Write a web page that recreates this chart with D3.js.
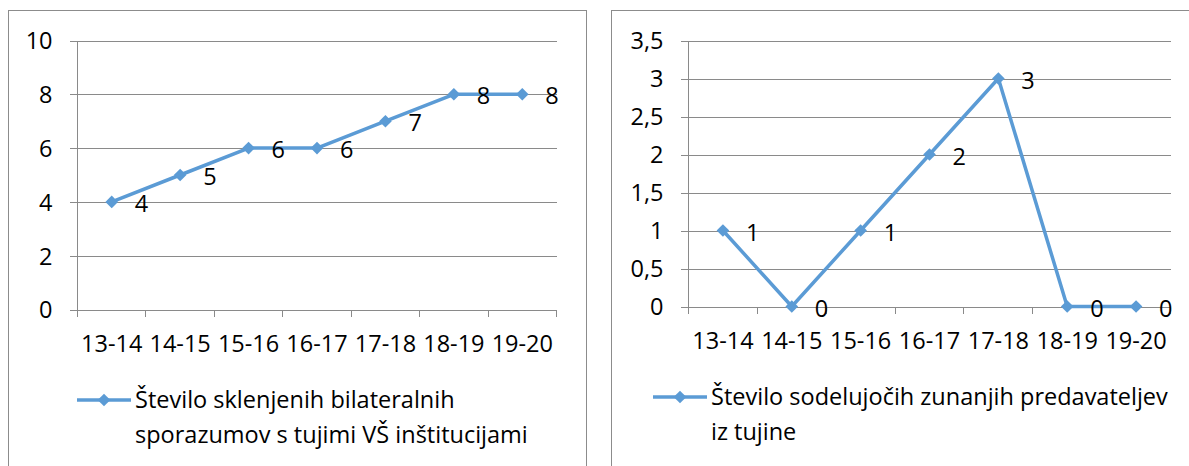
<!DOCTYPE html>
<html>
<head>
<meta charset="utf-8">
<script src="https://cdn.jsdelivr.net/npm/d3@7"></script>
<style>
  html, body { margin: 0; padding: 0; background: #fff; }
  svg { display: block; }
  text { font-family: "Open Sans", "Noto Sans", sans-serif; fill: #000; }
</style>
</head>
<body>
<svg id="chart" width="1189" height="466"></svg>
<script>
// ---- data ----
const categories = ["13-14", "14-15", "15-16", "16-17", "17-18", "18-19", "19-20"];
const agreements = [4, 5, 6, 6, 7, 8, 8];
const lecturers = [1, 0, 1, 2, 3, 0, 0];
const agreementTicks = [0, 2, 4, 6, 8, 10];
const lecturerTicks = [0, 0.5, 1, 1.5, 2, 2.5, 3, 3.5];
const agreementLegend = ["Število sklenjenih bilateralnih", "sporazumov s tujimi VŠ inštitucijami"];
const lecturerLegend = ["Število sodelujočih zunanjih predavateljev", "iz tujine"];

const locale = d3.formatLocale({decimal: ",", thousands: ".", grouping: [3], currency: ["", "€"]});
const fmt = locale.format("~g");

const BLUE = "#5B9BD5";
const GRID = "#8a8a8a";
const FS = 23.5;
const svg = d3.select("#chart");

function drawChart(opt) {
  const g = svg.append("g");
  // frame
  g.append("rect")
    .attr("x", opt.frame[0]).attr("y", opt.frame[1])
    .attr("width", opt.frame[2]).attr("height", opt.frame[3])
    .attr("fill", "none").attr("stroke", "#8c8c8c").attr("stroke-width", 1);

  const x = d3.scaleBand().domain(categories).range([opt.x0, opt.x1]);
  const y = d3.scaleLinear().domain([0, d3.max(opt.ticks)]).range([opt.y0, opt.yTop]);

  // y gridlines via axis
  const yAxis = d3.axisLeft(y).tickValues(opt.ticks).tickFormat(fmt)
    .tickSize(-(opt.x1 - opt.x0)).tickSizeOuter(0).tickPadding(0);
  const ya = g.append("g").attr("transform", `translate(${opt.x0},0)`).call(yAxis);
  ya.select(".domain").remove();
  ya.selectAll(".tick line").attr("stroke", GRID).attr("x1", -8).attr("shape-rendering", "crispEdges");
  ya.selectAll(".tick text")
    .attr("x", -25).attr("dy", "0.36em")
    .attr("font-size", FS).attr("font-family", "Open Sans").attr("fill", "#000");

  // vertical axis line
  g.append("line").attr("x1", opt.x0).attr("x2", opt.x0)
    .attr("y1", y.range()[1]).attr("y2", y(0))
    .attr("stroke", GRID).attr("shape-rendering", "crispEdges");

  // x axis labels via axis
  const xAxis = d3.axisBottom(x).tickSize(0).tickPadding(0);
  const xa = g.append("g").attr("transform", `translate(0,${y(0)})`).call(xAxis);
  xa.select(".domain").attr("stroke", GRID).attr("shape-rendering", "crispEdges");
  xa.selectAll(".tick text")
    .attr("y", 42).attr("dy", 0)
    .attr("font-size", FS).attr("font-family", "Open Sans").attr("fill", "#000");
  // boundary tick marks
  const bounds = categories.map(c => x(c)).concat([x.range()[1]]);
  g.append("g").selectAll("line").data(bounds).join("line")
    .attr("x1", d => d).attr("x2", d => d)
    .attr("y1", y(0)).attr("y2", y(0) + 7)
    .attr("stroke", GRID).attr("shape-rendering", "crispEdges");

  const cx = (d, i) => x(categories[i]) + x.bandwidth() / 2;
  const line = d3.line().x(cx).y(d => y(d));
  g.append("path").datum(opt.values)
    .attr("d", line).attr("fill", "none")
    .attr("stroke", BLUE).attr("stroke-width", 3.5).attr("stroke-linejoin", "round");

  const diamond = d3.symbol().type(d3.symbolSquare).size(80);
  g.append("g").selectAll("path").data(opt.values).join("path")
    .attr("d", diamond)
    .attr("transform", (d, i) => `translate(${cx(d, i)},${y(d)}) rotate(45)`)
    .attr("fill", BLUE);

  g.append("g").selectAll("text").data(opt.values).join("text")
    .attr("x", (d, i) => cx(d, i) + 23)
    .attr("y", d => y(d) + 10)
    .attr("font-size", FS)
    .text(d => fmt(d));

  // legend
  const lg = g.append("g");
  lg.append("line").attr("x1", opt.legend[0]).attr("x2", opt.legend[0] + 54)
    .attr("y1", opt.legend[1]).attr("y2", opt.legend[1])
    .attr("stroke", BLUE).attr("stroke-width", 3.5);
  lg.append("path").attr("d", diamond)
    .attr("transform", `translate(${opt.legend[0] + 27},${opt.legend[1]}) rotate(45)`)
    .attr("fill", BLUE);
  lg.selectAll("text").data(opt.legendText).join("text")
    .attr("x", opt.legend[0] + 58)
    .attr("y", (d, i) => opt.legend[1] + 8 + i * 35)
    .attr("font-size", FS)
    .text(d => d);
}

drawChart({
  frame: [8.5, 10.5, 578, 470],
  x0: 77.5, x1: 556.5, y0: 309.5, yTop: 40.5,
  ticks: agreementTicks, values: agreements,
  legend: [77, 400], legendText: agreementLegend
});

drawChart({
  frame: [611.5, 10.5, 600, 470],
  x0: 688.5, x1: 1170.5, y0: 306.5, yTop: 40.5,
  ticks: lecturerTicks, values: lecturers,
  legend: [653, 397], legendText: lecturerLegend
});
</script>
</body>
</html>
